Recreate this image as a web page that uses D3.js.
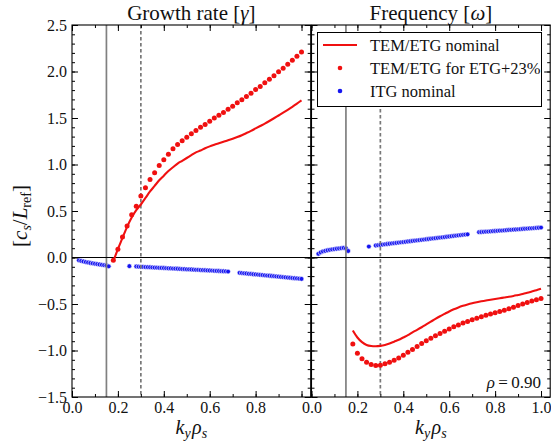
<!DOCTYPE html>
<html>
<head>
<meta charset="utf-8">
<script src="https://cdn.jsdelivr.net/npm/d3@7"></script>
<style>
  body { margin: 0; background: #fff; }
  text { font-family: "Liberation Serif", "Times New Roman", serif; fill: #111; }
</style>
</head>
<body>
<svg id="chart" width="551" height="445"></svg>
<script>

// TEM/ETG scans (k_y rho_s grid)
const ky = [0.18, 0.20, 0.22, 0.24, 0.26, 0.28, 0.30, 0.32, 0.34, 0.36, 0.38, 0.40, 0.42, 0.44,
  0.46, 0.48, 0.50, 0.52, 0.54, 0.56, 0.58, 0.60, 0.62, 0.64, 0.66, 0.68, 0.70, 0.72, 0.74,
  0.76, 0.78, 0.80, 0.82, 0.84, 0.86, 0.88, 0.90, 0.92, 0.94, 0.96, 0.98, 1.00]

const gammaNominal = [-0.04, 0.09, 0.21, 0.33, 0.43, 0.51, 0.57, 0.64, 0.71, 0.77, 0.83, 0.88,
  0.93, 0.97, 1.01, 1.04, 1.07, 1.10, 1.13, 1.15, 1.175, 1.195, 1.212, 1.228, 1.244, 1.26, 1.277,
  1.295, 1.315, 1.338, 1.362, 1.388, 1.414, 1.44, 1.468, 1.497, 1.527, 1.557, 1.588, 1.62, 1.655, 1.69]

const gammaEtg23 = [-0.03, 0.09, 0.22, 0.34, 0.46, 0.55, 0.66, 0.75, 0.84, 0.91, 0.99, 1.05,
  1.11, 1.17, 1.215, 1.255, 1.293, 1.33, 1.366, 1.40, 1.43, 1.466, 1.50, 1.53, 1.56, 1.595,
  1.627, 1.663, 1.696, 1.73, 1.767, 1.806, 1.84, 1.878, 1.917, 1.954, 1.997, 2.035, 2.078,
  2.12, 2.165, 2.21]

const omegaNominal = [-0.785, -0.86, -0.91, -0.94, -0.952, -0.955, -0.95, -0.94, -0.925, -0.905,
  -0.885, -0.86, -0.835, -0.805, -0.778, -0.75, -0.72, -0.69, -0.66, -0.632, -0.606, -0.58,
  -0.557, -0.537, -0.52, -0.505, -0.492, -0.481, -0.471, -0.462, -0.454, -0.446, -0.438,
  -0.43, -0.422, -0.413, -0.403, -0.393, -0.38, -0.366, -0.352, -0.337]

const omegaEtg23 = [-0.93, -1.03, -1.09, -1.125, -1.15, -1.16, -1.158, -1.143, -1.126, -1.105,
  -1.08, -1.052, -1.02, -0.989, -0.957, -0.925, -0.896, -0.867, -0.842, -0.817, -0.792, -0.768,
  -0.745, -0.725, -0.705, -0.687, -0.669, -0.654, -0.637, -0.622, -0.608, -0.595, -0.58,
  -0.566, -0.55, -0.534, -0.517, -0.5, -0.485, -0.468, -0.455, -0.44]

// ITG nominal (finer grid, some points missing)
const itgKy = [0.03, 0.04, 0.05, 0.06, 0.07, 0.08, 0.09, 0.10, 0.11, 0.12, 0.13, 0.14, 0.15, 0.16,
  0.25,
  0.28, 0.29, 0.30, 0.31, 0.32, 0.33, 0.34, 0.35, 0.36, 0.37, 0.38, 0.39, 0.40, 0.41, 0.42,
  0.43, 0.44, 0.45, 0.46, 0.47, 0.48, 0.49, 0.50, 0.51, 0.52, 0.53, 0.54, 0.55, 0.56, 0.57,
  0.58, 0.59, 0.60, 0.61, 0.62, 0.63, 0.64, 0.65, 0.66, 0.67, 0.68,
  0.73, 0.74, 0.75, 0.76, 0.77, 0.78, 0.79, 0.80, 0.81, 0.82, 0.83, 0.84, 0.85, 0.86, 0.87,
  0.88, 0.89, 0.90, 0.91, 0.92, 0.93, 0.94, 0.95, 0.96, 0.97, 0.98, 0.99, 1.00]

const itgGamma = [-0.030, -0.037, -0.043, -0.049, -0.054, -0.059, -0.063, -0.067, -0.071, -0.075,
  -0.079, -0.083, -0.086, -0.095,
  -0.093,
  -0.097, -0.099, -0.100, -0.101, -0.103, -0.104, -0.105, -0.107, -0.108, -0.109, -0.111,
  -0.112, -0.113, -0.115, -0.116, -0.117, -0.119, -0.120, -0.121, -0.123, -0.124, -0.125,
  -0.127, -0.128, -0.129, -0.131, -0.132, -0.133, -0.135, -0.136, -0.137, -0.139, -0.140,
  -0.141, -0.143, -0.144, -0.145, -0.147, -0.148, -0.149, -0.151,
  -0.165, -0.167, -0.170, -0.172, -0.175, -0.177, -0.180, -0.182, -0.184, -0.187, -0.189,
  -0.192, -0.194, -0.196, -0.199, -0.201, -0.204, -0.206, -0.209, -0.211, -0.213, -0.216,
  -0.218, -0.221, -0.223, -0.225, -0.228, -0.230]

const itgOmega = [0.040, 0.055, 0.065, 0.072, 0.078, 0.083, 0.087, 0.091, 0.094, 0.097, 0.100,
  0.103, 0.098, 0.070,
  0.118,
  0.129, 0.132, 0.135, 0.139, 0.142, 0.145, 0.148, 0.151, 0.154, 0.157, 0.160, 0.163, 0.166,
  0.169, 0.172, 0.175, 0.178, 0.181, 0.184, 0.187, 0.190, 0.193, 0.196, 0.199, 0.202, 0.205,
  0.208, 0.211, 0.214, 0.217, 0.220, 0.223, 0.226, 0.229, 0.232, 0.235, 0.238, 0.241, 0.244,
  0.247, 0.249,
  0.272, 0.274, 0.276, 0.278, 0.279, 0.281, 0.283, 0.285, 0.287, 0.289, 0.290, 0.292, 0.294,
  0.296, 0.298, 0.300, 0.301, 0.303, 0.305, 0.307, 0.309, 0.311, 0.313, 0.314, 0.316, 0.318,
  0.320, 0.322]

const xMajor = [0, 0.2, 0.4, 0.6, 0.8, 1.0]
const yMajor = [-1.5, -1.0, -0.5, 0, 0.5, 1.0, 1.5, 2.0, 2.5]
const kyMarks = [0.15, 0.3]   // solid, dashed guide lines

const red = "#f01010"
const blue = "#1515f0"

let svg = d3.select("#chart")

let y = d3.scaleLinear().domain([-1.5, 2.5]).range([397, 25])

let panels = [
  { left: 72, right: 310.7, title: "Growth rate [", sym: "γ", line: gammaNominal, dots: gammaEtg23, itg: itgGamma, yLabels: true, lastX: false },
  { left: 311.5, right: 550.2, title: "Frequency [", sym: "ω", line: omegaNominal, dots: omegaEtg23, itg: itgOmega, yLabels: false, lastX: true }
]

let minorX = d3.range(0, 1.05, 0.1)
let minorY = d3.range(-1.5, 2.55, 0.1)

panels.forEach(p => {
  let x = d3.scaleLinear().domain([0, 1.04]).range([p.left, p.right])
  let g = svg.append("g")

  g.append("rect")
      .attr("x", p.left).attr("y", y(2.5))
      .attr("width", p.right - p.left).attr("height", y(-1.5) - y(2.5))
      .attr("fill", "#fff")

  // ITG points
  g.selectAll(".itg")
      .data(itgKy.map((k, i) => [k, p.itg[i]]))
      .enter().append("circle")
      .attr("class", "itg")
      .attr("cx", d => x(d[0]))
      .attr("cy", d => y(d[1]))
      .attr("r", 2.4)
      .attr("fill", blue)
      .attr("stroke", "#fff")
      .attr("stroke-width", 0.6)

  // guide lines
  g.append("line")
      .attr("x1", x(kyMarks[0])).attr("x2", x(kyMarks[0]))
      .attr("y1", y(2.5)).attr("y2", y(-1.5))
      .attr("stroke", "#808080").attr("stroke-width", 1.7)
  g.append("line")
      .attr("x1", x(kyMarks[1])).attr("x2", x(kyMarks[1]))
      .attr("y1", y(2.5)).attr("y2", y(-1.5))
      .attr("stroke", "#787878").attr("stroke-width", 1.7)
      .attr("stroke-dasharray", "3.5,2.5")
  g.append("line")
      .attr("x1", p.left).attr("x2", p.right)
      .attr("y1", y(0)).attr("y2", y(0))
      .attr("stroke", "#000").attr("stroke-width", 1.2)

  let line = d3.line()
      .x(d => x(d[0]))
      .y(d => y(d[1]))
      .curve(d3.curveCatmullRom)

  g.append("path")
      .datum(ky.map((k, i) => [k, p.line[i]]))
      .attr("d", line)
      .attr("fill", "none")
      .attr("stroke", red)
      .attr("stroke-width", 2.1)

  g.selectAll(".etg")
      .data(ky.map((k, i) => [k, p.dots[i]]))
      .enter().append("circle")
      .attr("class", "etg")
      .attr("cx", d => x(d[0]))
      .attr("cy", d => y(d[1]))
      .attr("r", 2.5)
      .attr("fill", red)

  // frame
  g.append("rect")
      .attr("x", p.left).attr("y", y(2.5))
      .attr("width", p.right - p.left).attr("height", y(-1.5) - y(2.5))
      .attr("fill", "none").attr("stroke", "#000").attr("stroke-width", 1.1)

  let fmt = d3.format(".1f")

  // ticks, pointing inward on every side
  g.append("g")
      .attr("transform", `translate(0,${y(-1.5)})`)
      .call(d3.axisBottom(x).tickValues(xMajor).tickSize(-6).tickPadding(5)
        .tickFormat(d => (d === 1 && !p.lastX) ? "" : fmt(d)))
  g.append("g")
      .attr("transform", `translate(0,${y(-1.5)})`)
      .call(d3.axisBottom(x).tickValues(minorX).tickSize(-3).tickFormat(""))
  g.append("g")
      .attr("transform", `translate(0,${y(2.5)})`)
      .call(d3.axisTop(x).tickValues(xMajor).tickSize(-6).tickFormat(""))
  g.append("g")
      .attr("transform", `translate(0,${y(2.5)})`)
      .call(d3.axisTop(x).tickValues(minorX).tickSize(-3).tickFormat(""))
  g.append("g")
      .attr("transform", `translate(${p.left},0)`)
      .call(d3.axisLeft(y).tickValues(yMajor).tickSize(-6).tickPadding(5)
        .tickFormat(d => p.yLabels ? fmt(d) : ""))
  g.append("g")
      .attr("transform", `translate(${p.left},0)`)
      .call(d3.axisLeft(y).tickValues(minorY).tickSize(-3).tickFormat(""))
  g.append("g")
      .attr("transform", `translate(${p.right},0)`)
      .call(d3.axisRight(y).tickValues(yMajor).tickSize(-6).tickFormat(""))
  g.append("g")
      .attr("transform", `translate(${p.right},0)`)
      .call(d3.axisRight(y).tickValues(minorY).tickSize(-3).tickFormat(""))

  g.selectAll(".domain").remove()
  g.selectAll(".tick line").attr("stroke", "#000")
  g.selectAll(".tick text")
      .style("font-family", "'Liberation Serif', serif")
      .style("font-size", "16px")
      .attr("fill", "#111")

  let cx = (p.left + p.right) / 2

  // title
  let t = g.append("text")
      .attr("x", cx).attr("y", 20)
      .attr("text-anchor", "middle")
      .style("font-size", "21px")
  t.append("tspan").text(p.title)
  t.append("tspan").style("font-style", "italic").text(p.sym)
  t.append("tspan").text("]")

  // x label
  let xl = g.append("text")
      .attr("x", cx).attr("y", 434)
      .attr("text-anchor", "middle")
      .style("font-size", "20px")
      .style("font-style", "italic")
  xl.append("tspan").text("k")
  xl.append("tspan").attr("dy", 4).style("font-size", "14px").text("y")
  xl.append("tspan").attr("dy", -4).attr("dx", 1.5).text("ρ")
  xl.append("tspan").attr("dy", 4).style("font-size", "14px").text("s")
})

// y label
let yl = svg.append("text")
    .attr("transform", "translate(27,216) rotate(-90)")
    .attr("text-anchor", "middle")
    .style("font-size", "21px")
yl.append("tspan").text("[")
yl.append("tspan").style("font-style", "italic").text("c")
yl.append("tspan").attr("dy", 4).style("font-size", "14px").style("font-style", "italic").text("s")
yl.append("tspan").attr("dy", -4).text("/")
yl.append("tspan").style("font-style", "italic").text("L")
yl.append("tspan").attr("dy", 4).style("font-size", "14px").text("ref")
yl.append("tspan").attr("dy", -4).text("]")

// rho annotation
let rho = svg.append("text")
    .attr("x", 541).attr("y", 388)
    .attr("text-anchor", "end")
    .style("font-size", "17px")
rho.append("tspan").style("font-style", "italic").text("ρ")
rho.append("tspan").text("\u2009=\u20090.90")

// legend
let lg = svg.append("g")
lg.append("rect")
    .attr("x", 317.5).attr("y", 32.5).attr("width", 224).attr("height", 74)
    .attr("fill", "#fff").attr("stroke", "#000").attr("stroke-width", 1)
let legendItems = ["TEM/ETG nominal", "TEM/ETG for ETG+23%", "ITG nominal"]
legendItems.forEach((name, i) => {
  let ly = 45 + i * 23
  if (i === 0) {
    lg.append("line")
        .attr("x1", 323).attr("x2", 357).attr("y1", ly).attr("y2", ly)
        .attr("stroke", red).attr("stroke-width", 2.1)
  } else {
    lg.append("circle")
        .attr("cx", 340).attr("cy", ly).attr("r", 2.3)
        .attr("fill", i === 1 ? red : blue)
  }
  lg.append("text")
      .attr("x", 370).attr("y", ly + 5.5)
      .style("font-size", "16.5px")
      .text(name)
})

</script>
</body>
</html>
